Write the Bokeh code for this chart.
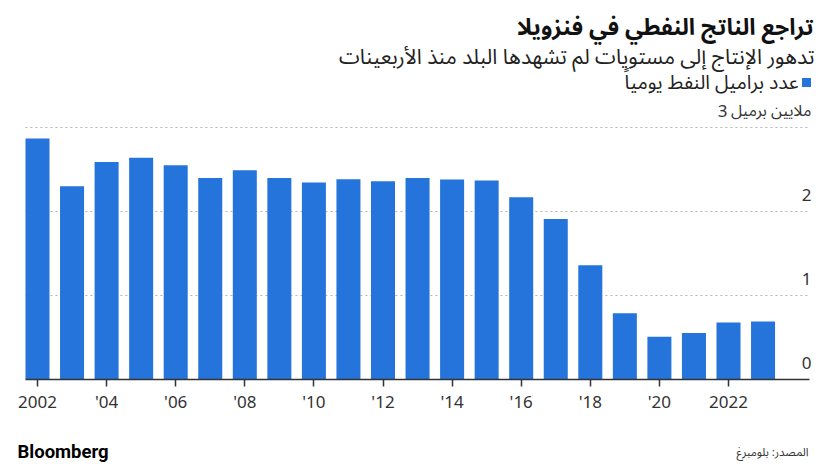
from bokeh.plotting import figure
from bokeh.models import Range1d, FixedTicker, ColumnDataSource
from bokeh.layouts import column
from bokeh.core.properties import value
from bokeh.embed import file_html
from bokeh.resources import INLINE

# ---------------- data ----------------
years = [2002, 2003, 2004, 2005, 2006, 2007, 2008, 2009, 2010, 2011, 2012,
         2013, 2014, 2015, 2016, 2017, 2018, 2019, 2020, 2021, 2022, 2023]
barrels = [2.87, 2.30, 2.59, 2.64, 2.55, 2.40, 2.49, 2.40, 2.345, 2.385, 2.36,
           2.40, 2.38, 2.37, 2.17, 1.91, 1.36, 0.79, 0.51, 0.555, 0.68, 0.69]
x_ticks = [2002, 2004, 2006, 2008, 2010, 2012, 2014, 2016, 2018, 2020, 2022]
x_tick_labels = ["2002", "'04", "'06", "'08", "'10", "'12", "'14", "'16", "'18", "'20", "2022"]
y_ticks = [0, 1, 2, 3]
y_tick_labels = ["0", "1", "2", "3"]
y_unit = "ملايين برميل"

title_text = "تراجع الناتج النفطي في فنزويلا"
subtitle_text = "تدهور الإنتاج إلى مستويات لم تشهدها البلد منذ الأربعينات"
legend_text = "عدد براميل النفط يومياً"
source_text = "المصدر: بلومبرغ"
brand_text = "Bloomberg"

# ---------------- style ----------------
BAR_COLOR = "#2474DC"
AR_FONT = "Noto Sans Arabic, DejaVu Sans"
NUM_FONT = "Noto Sans"
W = 840
H_MAIN, H_FOOT = 425, 44
BORDER_BOTTOM = 46
frame_h = H_MAIN - BORDER_BOTTOM          # frame spans page y 0 .. baseline

X0_PX, PITCH = 37.0, 34.55                # centre of first bar (px), px per year
UNIT = 84.0                               # px per million barrels

def px2x(px):
    return years[0] + (px - X0_PX) / PITCH

def py2y(py):
    return (frame_h - py) / UNIT

x_left = years[0] - 0.35
x_right = years[-1] + 1.345
x_lab = px2x(811)

# ---------------- main ----------------
p = figure(width=W, height=H_MAIN,
           x_range=Range1d(px2x(0), px2x(W)),
           y_range=Range1d(0, frame_h / UNIT),
           output_backend="svg", toolbar_location=None, title=None,
           min_border_left=0, min_border_right=0, min_border_top=0,
           min_border_bottom=BORDER_BOTTOM, outline_line_color=None)
p.yaxis.visible = False
p.grid.visible = False

# header
p.text(x=[px2x(813)], y=[py2y(27)], text=[title_text], text_font=value(AR_FONT),
       text_font_size="23px", text_font_style="bold", text_color="#111111",
       text_align="right", text_baseline="middle")
p.text(x=[px2x(814)], y=[py2y(56)], text=[subtitle_text], text_font=value(AR_FONT),
       text_font_size="21px", text_color="#222222",
       text_align="right", text_baseline="middle")
p.scatter(x=[px2x(806)], y=[py2y(82)], marker="square", size=9,
          fill_color=BAR_COLOR, line_color=None)
p.text(x=[px2x(798)], y=[py2y(82)], text=[legend_text], text_font=value(AR_FONT),
       text_font_size="19.5px", text_color="#222222",
       text_align="right", text_baseline="middle")

# gridlines
grid_src = ColumnDataSource(dict(y=[t for t in y_ticks if t > 0]))
p.segment(x0=x_left, x1=x_right, y0="y", y1="y", source=grid_src,
          line_color="#b5b5b5", line_width=1, line_dash="2 3")

# bars
src = ColumnDataSource(dict(year=years, v=barrels))
p.vbar(x="year", top="v", bottom=0, width=0.695, source=src,
       fill_color=BAR_COLOR, line_color=None)

# y labels (numbers), top one shifted left of its unit text
lab_src = ColumnDataSource(dict(y=y_ticks[:-1], t=y_tick_labels[:-1]))
p.text(x=x_lab, y="y", text="t", source=lab_src,
       text_font=value(NUM_FONT), text_font_size="17px", text_color="#333333",
       text_align="right", text_baseline="middle", y_offset=-17)
p.text(x=[x_lab], y=[y_ticks[-1]], text=[y_unit],
       text_font=value(AR_FONT), text_font_size="16px", text_color="#333333",
       text_align="right", text_baseline="middle", y_offset=-17)
p.text(x=[x_lab], y=[y_ticks[-1]], text=[y_tick_labels[-1]],
       text_font=value(NUM_FONT), text_font_size="17px", text_color="#333333",
       text_align="right", text_baseline="middle", y_offset=-17, x_offset=-84)

xa = p.xaxis[0]
xa.bounds = (x_left, x_right)
xa.ticker = FixedTicker(ticks=x_ticks)
xa.major_label_overrides = {t: l for t, l in zip(x_ticks, x_tick_labels)}
xa.axis_line_color = "#333333"
xa.axis_line_width = 1.5
xa.major_tick_line_color = "#333333"
xa.major_tick_line_width = 1.5
xa.major_tick_out = 7
xa.major_tick_in = 0
xa.minor_tick_line_color = None
xa.major_label_standoff = 3
xa.major_label_text_font = NUM_FONT
xa.major_label_text_font_size = "17px"
xa.major_label_text_color = "#333333"

# ---------------- footer ----------------
foot = figure(width=W, height=H_FOOT, x_range=Range1d(0, W), y_range=Range1d(H_FOOT, 0),
              output_backend="svg", toolbar_location=None, title=None,
              min_border=0, outline_line_color=None)
foot.axis.visible = False
foot.grid.visible = False
foot.text(x=[17], y=[26], text=[brand_text], text_font=value("Roboto"),
          text_font_size="18.5px", text_font_style="bold", text_color="#000000",
          text_align="left", text_baseline="middle")
foot.text(x=[808], y=[26], text=[source_text], text_font=value(AR_FONT),
          text_font_size="11.5px", text_color="#333333",
          text_align="right", text_baseline="middle")

layout = column(p, foot, spacing=0)
open("out.html", "w").write(file_html(layout, INLINE))
